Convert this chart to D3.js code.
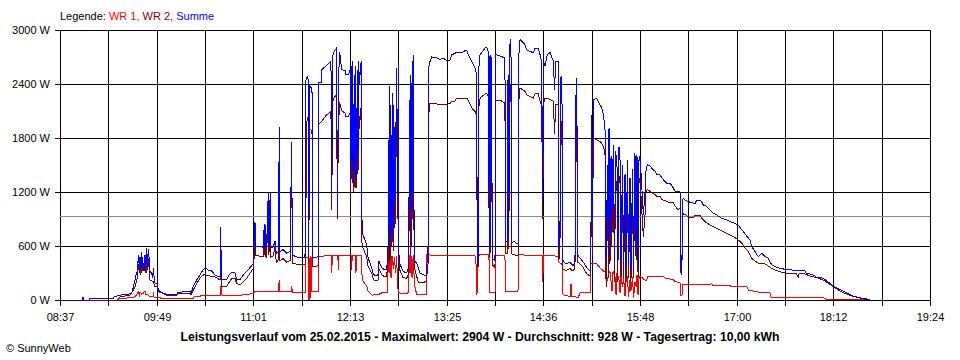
<!DOCTYPE html>
<html><head><meta charset="utf-8">
<script src="https://cdn.jsdelivr.net/npm/d3@7"></script>
<style>body{margin:0;background:#fff}svg{display:block}</style>
</head><body>
<script>
// time in minutes since 08:37, power in W
const xTickLabels = ["08:37","09:49","11:01","12:13","13:25","14:36","15:48","17:00","18:12","19:24"];
const yTicks = [0,600,1200,1800,2400,3000];
const average = 928;
const seriesNames = ["WR 1","WR 2","Summe"];

const wr1Series = [[0,0],[42.8,0],[43.4,7],[44.6,19],[54.5,25],[57.0,55],[58.2,93],[59.0,55],[59.5,90],[60.8,65],[61.9,74],[63.2,100],[64.0,60],[65.7,55],[66.9,37],[69.2,37],[69.4,93],[69.9,35],[70.7,30],[74.4,30],[75.1,12],[99.1,12],[99.7,37],[104.1,37],[104.9,55],[119.2,55],[119.5,155],[120.3,155],[120.5,52],[128.9,48],[138.8,60],[143.8,74],[145.0,93],[146.3,100],[156.2,96],[162.3,96],[163.1,220],[163.6,96],[172.0,90],[172.3,155],[172.8,85],[180.0,80],[182.6,78],[182.9,467],[184.7,480],[185.0,0],[185.4,470],[185.9,0],[186.4,480],[187.2,467],[187.4,100],[192.1,100],[192.6,480],[197.1,490],[201.9,490],[202.1,300],[202.5,490],[206.7,490],[206.9,330],[207.3,490],[216.8,490],[216.9,330],[217.3,490],[220.0,490],[220.1,300],[220.5,490],[224.2,490],[224.4,300],[225.3,211],[228.1,155],[229.1,100],[232.0,55],[236.5,59],[239.2,78],[243.2,78],[244.2,490],[244.7,300],[245.4,480],[246.2,250],[246.9,490],[247.9,350],[248.8,480],[249.5,300],[250.3,490],[251.0,200],[251.6,80],[256.6,70],[259.0,80],[259.6,503],[260.3,300],[261.0,500],[261.8,250],[262.7,500],[263.6,170],[265.3,59],[272.6,59],[272.9,503],[275.2,500],[282.6,495],[290.0,495],[297.5,500],[304.9,495],[308.6,490],[309.4,400],[310.1,59],[310.9,490],[312.4,505],[319.0,505],[319.4,78],[323.5,78],[324.0,500],[330.9,500],[331.3,100],[340.6,100],[341.1,505],[349.5,495],[357.0,495],[358.5,490],[359.0,200],[359.6,500],[368.1,490],[370.6,480],[371.1,420],[373.3,400],[374.1,59],[379.3,40],[380.0,180],[380.6,40],[385.5,30],[386.7,80],[394.2,80],[394.7,411],[399.1,405],[401.6,356],[406.1,300],[406.8,210],[408.3,300],[409.0,320],[410.5,100],[411.3,320],[412.8,250],[413.5,60],[414.2,300],[415.7,230],[416.5,80],[417.2,280],[418.3,140],[419.1,250],[420.2,40],[420.9,200],[422.0,270],[422.8,30],[423.9,220],[424.6,100],[425.8,260],[426.5,20],[427.6,200],[428.4,150],[429.1,280],[429.9,60],[430.6,230],[431.3,267],[435.8,211],[437.3,263],[448.4,263],[449.9,244],[455.9,226],[457.4,207],[461.1,189],[461.6,55],[462.6,55],[463.3,175],[476.0,175],[484.9,178],[485.6,159],[498.3,159],[499.5,148],[510.7,148],[511.9,111],[514.6,111],[515.6,93],[522.1,85],[528.0,81],[528.8,26],[567.7,26],[569.7,11],[596.4,11],[597.9,0]];

const wr2Series = [[0,0],[42.4,0],[43.4,19],[44.6,33],[52.1,55],[53.3,81],[54.5,111],[55.8,148],[57.0,222],[57.6,250],[58.2,400],[59.0,300],[59.5,420],[60.2,280],[60.8,450],[61.7,320],[63.2,440],[64.0,300],[64.5,481],[65.1,330],[65.7,470],[66.4,320],[66.9,222],[69.4,204],[70.7,148],[72.4,148],[73.1,93],[76.8,74],[79.4,52],[86.8,50],[87.8,67],[96.7,74],[97.4,55],[99.1,111],[101.7,185],[104.1,241],[106.6,278],[108.4,278],[110.3,270],[114.0,259],[116.5,250],[119.0,222],[119.5,650],[120.1,170],[120.5,150],[124.0,148],[125.2,185],[127.7,241],[130.1,241],[131.4,185],[133.9,170],[136.3,200],[138.8,241],[141.3,296],[143.8,352],[144.5,500],[145.0,760],[145.5,495],[151.2,480],[151.9,740],[152.5,480],[153.0,740],[153.6,470],[154.9,1080],[155.4,500],[156.3,1080],[156.9,480],[158.6,490],[159.9,600],[160.4,470],[161.2,420],[162.3,450],[163.1,1700],[163.6,440],[166.1,460],[168.6,420],[171.1,440],[172.3,1600],[172.8,410],[175.5,400],[178.5,390],[182.2,390],[182.9,1000],[183.3,1960],[184.1,2022],[184.7,2000],[185.0,400],[185.6,1900],[187.4,1880],[188.0,370],[191.9,380],[192.2,1950],[194.5,1985],[197.8,2050],[201.5,2096],[202.1,1000],[202.7,2200],[203.8,2250],[205.8,2281],[206.2,900],[207.1,1900],[207.9,2200],[209.5,2100],[212.0,2080],[212.7,2040],[214.4,2040],[215.7,2080],[216.2,1170],[216.6,2100],[217.2,1300],[217.7,2150],[218.3,1200],[218.8,2000],[219.4,1250],[219.9,2100],[220.5,1250],[221.1,2050],[221.6,1400],[222.1,2150],[222.7,1900],[223.5,2100],[224.1,2150],[224.4,650],[225.3,580],[228.1,480],[229.1,370],[231.8,300],[232.8,240],[234.3,210],[236.5,220],[237.2,350],[239.2,280],[241.0,262],[243.0,262],[243.4,350],[244.3,500],[244.9,1900],[245.4,400],[246.0,1700],[246.5,600],[247.1,1800],[247.7,550],[248.2,1700],[249.1,800],[250.4,2100],[251.0,900],[251.6,2150],[252.1,400],[252.5,340],[255.1,250],[257.8,240],[259.0,280],[259.6,800],[259.9,1750],[260.5,500],[261.0,2000],[261.6,600],[262.0,2150],[262.5,900],[262.7,2133],[263.3,700],[264.0,330],[265.3,260],[266.5,200],[267.7,200],[270.0,189],[272.2,210],[272.7,250],[273.7,400],[273.9,2022],[275.2,2189],[280.1,2180],[282.6,2170],[287.6,2175],[290.0,2180],[291.3,2210],[293.8,2210],[295.0,2244],[302.5,2244],[303.7,2220],[306.2,2133],[308.6,2096],[309.9,2050],[310.3,370],[311.2,370],[311.6,2150],[312.4,2244],[316.1,2290],[317.3,2300],[318.5,2260],[319.3,470],[319.8,2240],[320.3,520],[320.9,2220],[321.5,390],[323.5,360],[324.0,2220],[327.2,2220],[330.9,2190],[331.3,520],[332.8,515],[333.2,2000],[333.7,570],[334.7,2390],[335.4,2200],[336.1,510],[340.8,490],[341.4,2340],[342.1,2356],[343.6,2340],[345.8,2319],[347.1,2280],[349.5,2260],[352.0,2244],[353.3,2290],[355.7,2290],[357.0,2207],[358.2,2152],[359.0,900],[359.6,2180],[360.7,2240],[362.4,2240],[364.4,2230],[366.9,2210],[367.8,1850],[368.6,2170],[370.6,2170],[371.1,450],[371.9,700],[372.6,1985],[373.3,1900],[373.6,356],[374.3,340],[376.3,330],[379.3,350],[381.5,320],[383.0,356],[383.2,1950],[383.7,1500],[384.3,1950],[385.0,420],[386.7,400],[389.2,360],[391.7,290],[394.2,267],[394.7,300],[395.4,1650],[396.0,500],[396.6,1800],[399.1,1780],[401.6,1760],[402.9,1744],[404.1,1700],[405.3,1633],[406.1,150],[407.2,1200],[407.8,250],[408.3,1600],[409.0,400],[409.8,1300],[410.3,600],[411.5,1430],[412.4,200],[413.1,1350],[414.2,1281],[414.8,200],[415.7,1380],[416.5,1300],[417.2,250],[418.3,1250],[419.1,250],[420.2,1150],[420.9,200],[422.0,1300],[422.8,250],[423.9,1100],[424.6,200],[425.8,1200],[426.5,250],[427.6,1400],[428.4,450],[429.1,1350],[429.9,250],[430.6,1300],[431.3,1350],[432.6,1020],[433.8,700],[435.1,950],[435.8,1200],[436.8,1226],[438.8,1207],[442.5,1170],[443.8,1152],[446.2,1152],[447.5,1115],[451.2,1096],[453.7,1078],[456.1,1078],[457.4,1041],[459.8,1004],[461.1,1019],[461.8,300],[462.4,278],[463.1,930],[463.5,963],[467.3,926],[468.5,915],[471.0,915],[472.2,937],[476.0,937],[477.2,910],[479.7,870],[483.4,833],[487.1,807],[490.8,778],[494.6,748],[498.3,722],[502.0,693],[504.4,667],[507.0,630],[509.4,581],[511.9,537],[514.4,463],[516.9,433],[519.3,407],[523.0,410],[525.6,389],[529.3,352],[533.0,326],[536.7,307],[540.4,296],[547.9,289],[548.9,250],[549.6,289],[552.8,296],[557.8,267],[562.8,248],[567.7,222],[572.6,174],[577.6,122],[582.5,81],[587.5,52],[592.5,30],[597.4,15],[600.9,0]];

const sumSeries = [[0,0],[16.7,0],[17.1,30],[17.8,0],[21.6,0],[21.9,15],[39.4,15],[40.2,35],[43.1,48],[44.6,55],[49.8,60],[51.3,67],[53.5,85],[54.5,148],[55.8,222],[57.0,315],[57.6,280],[58.2,500],[59.0,370],[59.5,480],[60.0,330],[60.8,537],[61.4,350],[61.9,411],[62.6,320],[63.2,500],[63.8,360],[64.5,574],[65.1,400],[65.7,563],[66.4,444],[66.9,315],[68.2,300],[68.9,244],[69.5,355],[70.1,230],[70.7,189],[72.4,180],[73.1,111],[75.6,81],[79.4,63],[86.8,63],[87.8,85],[91.7,90],[93.0,100],[96.7,100],[97.4,74],[99.1,148],[101.7,222],[104.1,278],[106.6,341],[108.4,352],[110.3,333],[112.8,322],[115.3,278],[117.7,259],[119.2,259],[119.5,807],[120.0,260],[120.5,230],[124.0,222],[125.2,267],[127.7,307],[130.1,307],[131.4,222],[133.9,225],[136.3,278],[138.8,315],[141.3,359],[143.8,407],[144.5,593],[145.0,870],[145.5,590],[148.2,600],[151.2,585],[151.9,841],[152.5,580],[153.0,837],[153.6,560],[154.9,1197],[155.4,600],[156.3,1190],[156.9,580],[158.6,590],[159.9,652],[160.4,560],[161.2,518],[162.3,540],[163.1,1922],[163.6,540],[166.1,560],[168.6,520],[171.1,540],[172.3,1752],[172.8,500],[175.5,480],[178.5,470],[182.2,467],[182.9,2440],[184.1,2493],[184.7,2420],[185.0,480],[185.6,2380],[187.4,2350],[188.0,470],[191.9,480],[192.2,2420],[194.5,2420],[194.7,2560],[197.8,2600],[201.5,2652],[202.1,1211],[202.7,2700],[203.8,2760],[205.8,2800],[206.2,1022],[207.1,2420],[207.9,2760],[209.5,2560],[212.0,2550],[212.7,2503],[214.4,2503],[215.7,2550],[216.2,1300],[216.6,2600],[217.2,1500],[217.7,2650],[218.3,1281],[218.8,2500],[219.4,1400],[219.9,2600],[220.5,1350],[221.1,2550],[221.6,1600],[222.1,2652],[222.7,2400],[223.5,2600],[224.1,2652],[224.4,933],[225.3,725],[228.1,614],[229.1,467],[231.8,356],[232.8,300],[234.3,267],[236.5,280],[236.9,400],[237.2,433],[239.2,356],[241.0,340],[243.0,340],[243.4,433],[244.3,700],[244.9,2374],[245.4,600],[246.0,2170],[246.5,800],[247.1,2300],[247.7,700],[248.2,2170],[249.1,1059],[250.4,2578],[251.0,1200],[251.6,2652],[252.1,500],[252.5,411],[255.1,319],[257.8,300],[259.0,356],[259.6,1200],[259.9,2226],[260.5,837],[261.0,2500],[261.6,1000],[262.0,2650],[262.5,1200],[262.7,2726],[263.3,900],[264.0,430],[265.3,410],[266.5,356],[267.7,300],[270.0,281],[272.2,267],[272.7,356],[273.7,600],[273.9,2559],[275.2,2652],[276.4,2700],[280.1,2689],[282.6,2670],[284.8,2690],[287.6,2660],[290.0,2660],[291.3,2726],[293.8,2740],[295.0,2755],[299.9,2755],[301.2,2770],[302.5,2770],[303.7,2726],[306.2,2652],[308.6,2578],[309.9,2500],[310.3,430],[311.2,430],[311.6,2600],[312.4,2726],[316.1,2800],[317.3,2811],[318.5,2760],[319.3,541],[319.8,2720],[320.3,600],[320.9,2700],[321.5,467],[323.5,433],[324.0,2726],[327.2,2710],[330.9,2690],[331.3,652],[332.8,650],[333.2,2503],[333.7,700],[334.7,2904],[335.4,2700],[336.1,640],[337.6,650],[340.8,620],[341.4,2874],[342.1,2893],[343.6,2870],[345.8,2837],[347.1,2780],[349.5,2760],[352.0,2750],[353.3,2800],[355.7,2800],[357.0,2726],[358.2,2650],[359.0,1096],[359.6,2652],[360.7,2600],[362.4,2726],[364.4,2750],[366.9,2652],[367.8,2337],[368.6,2652],[370.6,2652],[371.1,578],[371.9,900],[372.6,2485],[373.3,2400],[373.6,467],[374.3,433],[376.3,400],[379.3,420],[381.5,380],[383.0,420],[383.2,2281],[383.7,1800],[384.3,2467],[385.0,500],[386.7,467],[389.2,420],[391.7,360],[394.2,319],[394.7,380],[395.4,2059],[396.0,900],[396.6,2226],[399.1,2244],[401.6,2170],[402.9,2133],[404.1,2059],[405.3,1911],[406.1,430],[407.2,1500],[407.8,500],[408.3,1911],[409.0,700],[409.8,1600],[410.3,900],[411.5,1726],[412.4,450],[413.1,1650],[414.2,1541],[414.8,430],[415.7,1700],[416.5,1550],[417.2,430],[418.3,1500],[419.1,400],[420.2,1400],[420.9,350],[422.0,1550],[422.8,400],[423.9,1356],[424.6,320],[425.8,1450],[426.5,380],[427.6,1633],[428.4,600],[429.1,1615],[429.9,400],[430.6,1550],[431.3,1600],[432.6,1281],[433.8,948],[435.1,1200],[435.8,1430],[436.8,1504],[438.8,1490],[440.0,1467],[442.5,1430],[443.8,1393],[446.2,1393],[447.5,1356],[449.9,1319],[451.2,1300],[453.7,1300],[456.1,1244],[457.4,1207],[459.8,1207],[461.1,1200],[461.8,356],[462.4,296],[463.1,1115],[463.5,1130],[464.8,1111],[467.3,1093],[472.2,1070],[473.5,1111],[476.0,1111],[477.2,1090],[478.4,1056],[480.9,1040],[483.4,1000],[485.9,963],[488.4,945],[492.1,907],[495.8,889],[498.3,870],[502.0,852],[504.4,833],[505.7,807],[508.2,759],[510.7,711],[513.2,667],[514.4,593],[516.9,537],[519.3,481],[520.6,500],[521.9,518],[524.3,481],[526.8,463],[528.0,426],[529.3,389],[531.7,370],[535.5,352],[539.2,341],[542.9,341],[545.4,326],[554.1,322],[555.3,289],[557.8,289],[560.2,278],[562.8,252],[565.2,252],[567.7,241],[570.2,211],[572.6,185],[575.1,155],[577.6,137],[580.1,118],[582.5,100],[585.0,81],[587.5,63],[590.0,44],[593.7,30],[597.4,15],[601.1,10],[602.4,0]];

const seriesColors = ["#ff0000","#800000","#0000ff"];
const font = "'Liberation Sans', Arial, sans-serif";

const svg = d3.select("body").append("svg").attr("width",960).attr("height",360);
svg.append("rect").attr("width",960).attr("height",360).attr("fill","#fff");

const x = d3.scaleLinear().domain([0,647]).range([60,930]);
const y = d3.scaleLinear().domain([0,3000]).range([300,30]);
const gridTimes = d3.range(19).map(i => i*647/18);

// axes (ticks + labels)
const xAxis = d3.axisBottom(x).tickValues(gridTimes).tickSize(6).tickPadding(7)
  .tickFormat((d,i) => i % 2 === 0 ? xTickLabels[i/2] : "");
const gx = svg.append("g").attr("transform","translate(0,300)").call(xAxis);
gx.select(".domain").remove();
const yAxis = d3.axisLeft(y).tickValues(yTicks).tickSize(5).tickPadding(5).tickFormat(d => d + " W");
const gy = svg.append("g").attr("transform","translate(60,0)").call(yAxis);
gy.select(".domain").remove();
svg.selectAll(".tick line").attr("stroke","#000").attr("shape-rendering","crispEdges");
svg.selectAll(".tick text").attr("font-family",font).attr("font-size","11px").attr("fill","#000");

// grid
const grid = svg.append("g").attr("shape-rendering","crispEdges").attr("stroke","#000").attr("stroke-width",1);
grid.selectAll("line.v").data(gridTimes).join("line").attr("class","v")
  .attr("x1",d=>Math.round(x(d))+0.5).attr("x2",d=>Math.round(x(d))+0.5)
  .attr("y1",y(3000)).attr("y2",y(0));
grid.selectAll("line.h").data(yTicks).join("line").attr("class","h")
  .attr("x1",x(0)).attr("x2",x(647)+1)
  .attr("y1",d=>Math.round(y(d))+0.5).attr("y2",d=>Math.round(y(d))+0.5);
// align tick lines with grid
gx.selectAll(".tick").attr("transform",d=>`translate(${Math.round(x(d))+0.5},0)`);
gy.selectAll(".tick").attr("transform",d=>`translate(0,${Math.round(y(d))+0.5})`);

// average line
svg.append("line").attr("x1",x(0)).attr("x2",x(647)).attr("y1",Math.round(y(average))+0.5).attr("y2",Math.round(y(average))+0.5)
  .attr("stroke","#8c8c8c").attr("shape-rendering","crispEdges");

// series
const line = d3.line().x(d=>x(d[0])).y(d=>y(d[1]));
[wr1Series, wr2Series, sumSeries].forEach((s,i) => {
  svg.append("path").datum(s).attr("d",line).attr("fill","none")
    .attr("stroke",seriesColors[i]).attr("stroke-width",1).attr("shape-rendering","crispEdges");
});

// legend
const leg = svg.append("text").attr("x",60).attr("y",20).attr("font-family",font).attr("font-size","11px");
leg.append("tspan").attr("fill","#000").text("Legende: ");
seriesNames.forEach((n,i) => {
  leg.append("tspan").attr("fill",seriesColors[i]).text(n + (i<2 ? ", " : ""));
});

// caption
svg.append("text").attr("x",480).attr("y",341).attr("text-anchor","middle")
  .attr("font-family",font).attr("font-size","12px").attr("font-weight","bold")
  .attr("textLength",599).attr("lengthAdjust","spacingAndGlyphs")
  .text("Leistungsverlauf vom 25.02.2015 - Maximalwert: 2904 W - Durchschnitt: 928 W - Tagesertrag: 10,00 kWh");
svg.append("text").attr("x",6).attr("y",352).attr("font-family",font).attr("font-size","11px").text("© SunnyWeb");
</script>
</body></html>
